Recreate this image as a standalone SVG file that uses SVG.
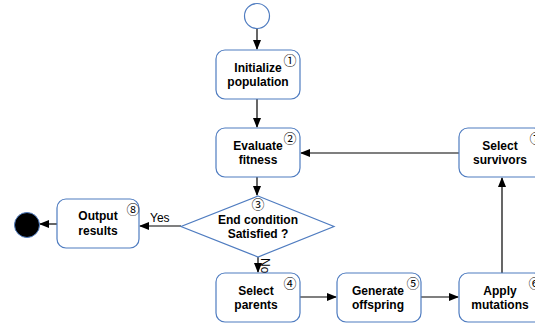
<svg xmlns="http://www.w3.org/2000/svg" width="535" height="324" viewBox="0 0 535 324">
<defs>
<marker id="ah" markerWidth="10" markerHeight="8" refX="9" refY="4" orient="auto" markerUnits="userSpaceOnUse">
<path d="M0,0 L10,4 L0,8 Z" fill="#000"/>
</marker>
<style>
.n{fill:#fff;stroke:#4f7cc0;stroke-width:1.2}
.t{font-family:"Liberation Sans",Arial,sans-serif;font-size:12px;font-weight:bold;fill:#000;text-anchor:middle}
.c{font-family:"Noto Sans CJK JP","Noto Sans CJK SC",sans-serif;font-size:13px;font-weight:normal;fill:#000;text-anchor:middle}
.l{font-family:"Liberation Sans",Arial,sans-serif;font-size:12px;fill:#000}
.e{stroke:#000;stroke-width:1.2;fill:none;marker-end:url(#ah)}
</style>
</defs>
<rect width="535" height="324" fill="#fff"/>
<g id="connectors">
<line class="e" x1="257" y1="29" x2="257" y2="49"/>
<line class="e" x1="257" y1="99" x2="257" y2="127"/>
<line class="e" x1="257" y1="177" x2="257" y2="195"/>
<line class="e" x1="258" y1="257" x2="258" y2="272"/>
<line class="e" x1="181" y1="226" x2="140" y2="226"/>
<line class="e" x1="57" y1="224" x2="40" y2="224"/>
<line class="e" x1="300" y1="297" x2="336" y2="297"/>
<line class="e" x1="421" y1="297" x2="458" y2="297"/>
<line class="e" x1="502" y1="273" x2="502" y2="178"/>
<line class="e" x1="459" y1="153" x2="301" y2="153"/>
<text class="l" x="150" y="222">Yes</text>
<text class="l" x="261" y="258" transform="rotate(90 261 258)">No</text>
</g>
<g id="start"><circle cx="257" cy="16" r="12.5" class="n"/></g>
<g id="end"><circle cx="27" cy="225" r="12.5" fill="#000" stroke="#4f7cc0" stroke-width="1"/></g>
<g id="n1">
<rect class="n" x="216" y="50" width="84" height="49" rx="9"/>
<text class="t" x="258" y="72">Initialize</text>
<text class="t" x="258" y="86">population</text>
<text class="c" x="290" y="65">①</text>
</g>
<g id="n2">
<rect class="n" x="216" y="128" width="84" height="49" rx="9"/>
<text class="t" x="258" y="150">Evaluate</text>
<text class="t" x="258" y="164">fitness</text>
<text class="c" x="290" y="143">②</text>
</g>
<g id="n3">
<polygon class="n" points="258,196 334,226.5 258,257 181,226.5"/>
<text class="t" x="258" y="224">End condition</text>
<text class="t" x="258" y="238">Satisfied ?</text>
<text class="c" x="258" y="209">③</text>
</g>
<g id="n8">
<rect class="n" x="57" y="199" width="82" height="49" rx="9"/>
<text class="t" x="98" y="220">Output</text>
<text class="t" x="98" y="235">results</text>
<text class="c" x="133" y="214">⑧</text>
</g>
<g id="n4">
<rect class="n" x="216" y="273" width="84" height="49" rx="9"/>
<text class="t" x="256" y="295">Select</text>
<text class="t" x="256" y="309">parents</text>
<text class="c" x="290" y="288">④</text>
</g>
<g id="n5">
<rect class="n" x="337" y="273" width="84" height="49" rx="9"/>
<text class="t" x="378" y="295">Generate</text>
<text class="t" x="378" y="309">offspring</text>
<text class="c" x="413" y="288">⑤</text>
</g>
<g id="n6">
<rect class="n" x="459" y="273" width="84" height="49" rx="9"/>
<text class="t" x="500" y="295">Apply</text>
<text class="t" x="500" y="309">mutations</text>
<text class="c" x="535" y="288">⑥</text>
</g>
<g id="n7">
<rect class="n" x="459" y="128" width="84" height="49" rx="9"/>
<text class="t" x="500" y="150">Select</text>
<text class="t" x="500" y="164">survivors</text>
<text class="c" x="536" y="143">⑦</text>
</g>
</svg>
